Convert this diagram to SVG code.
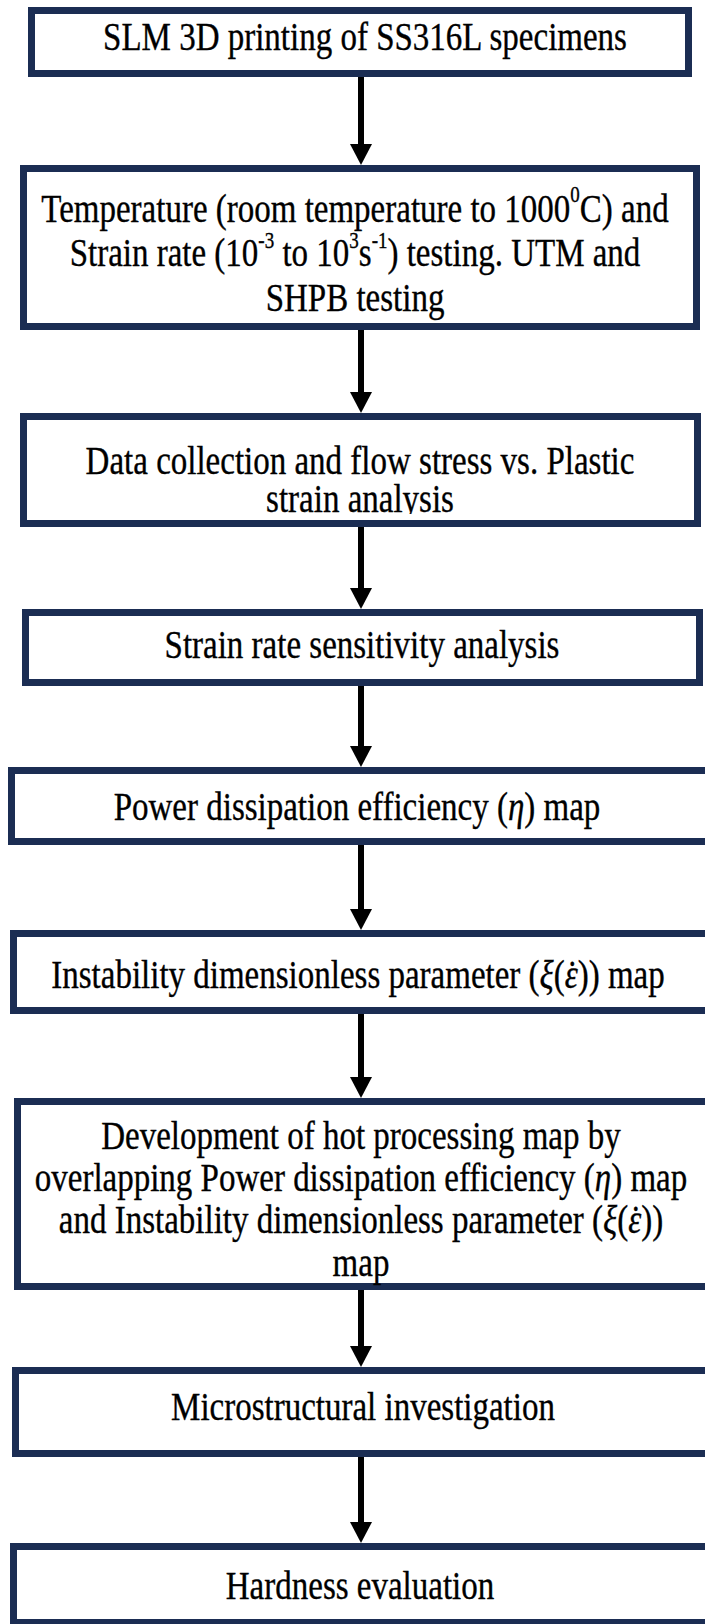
<svg xmlns="http://www.w3.org/2000/svg" width="705" height="1624" viewBox="0 0 705 1624">
<style>
.box{fill:#ffffff;stroke:#1b2d53;stroke-width:7}
.t{font-family:"Liberation Serif","Times New Roman",serif;font-size:33px;fill:#000;stroke:#000;stroke-width:0.3;text-anchor:middle}
.sup{font-size:19px}
.it{font-style:italic}
.conn line{stroke:#000;stroke-width:6}
</style>
<defs>
<marker id="ah" viewBox="0 0 21 22" markerWidth="21" markerHeight="22" refX="0" refY="11" orient="auto" markerUnits="userSpaceOnUse">
<path d="M0,0 L21,11 L0,22 Z" fill="#000"/>
</marker>
<clipPath id="clip3"><rect x="0" y="413" width="705" height="101"/></clipPath>
</defs>
<rect width="705" height="1624" fill="#ffffff"/>
<g id="n1"><rect class="box" x="31.5" y="10.5" width="657" height="63"/>
<text class="t" transform="translate(365,50) scale(1,1.2)">SLM 3D printing of SS316L specimens</text></g>
<g id="n2"><rect class="box" x="23.5" y="168.5" width="673" height="158"/>
<text class="t" transform="translate(355,222) scale(1,1.2)">Temperature (room temperature to 1000<tspan class="sup" dy="-17">0</tspan><tspan dy="17">C) and</tspan></text>
<text class="t" transform="translate(355,266) scale(1,1.2)">Strain rate (10<tspan class="sup" dy="-15">-3</tspan><tspan dy="15"> to 10</tspan><tspan class="sup" dy="-15">3</tspan><tspan dy="15">s</tspan><tspan class="sup" dy="-15">-1</tspan><tspan dy="15">) testing. UTM and</tspan></text>
<text class="t" transform="translate(355,311) scale(1,1.2)">SHPB testing</text></g>
<g id="n3"><rect class="box" x="23.5" y="416.5" width="674" height="107"/>
<text class="t" transform="translate(360,474) scale(1,1.2)">Data collection and flow stress vs. Plastic</text>
<g clip-path="url(#clip3)"><text class="t" transform="translate(360,512) scale(1,1.2)">strain analysis</text></g></g>
<g id="n4"><rect class="box" x="25.5" y="612.5" width="674" height="70"/>
<text class="t" transform="translate(362,658) scale(1,1.2)">Strain rate sensitivity analysis</text></g>
<g id="n5"><rect class="box" x="11.5" y="770.5" width="700" height="71"/>
<text class="t" transform="translate(357,820) scale(1,1.2)">Power dissipation efficiency (<tspan class="it">η</tspan>) map</text></g>
<g id="n6"><rect class="box" x="13.5" y="933.5" width="700" height="77"/>
<text class="t" transform="translate(358,988) scale(1,1.2)">Instability dimensionless parameter (<tspan class="it">ξ</tspan>(<tspan class="it">ε</tspan><tspan dx="-11">˙</tspan>)) map</text></g>
<g id="n7"><rect class="box" x="17.5" y="1101.5" width="700" height="185"/>
<text class="t" transform="translate(361,1149) scale(1,1.2)">Development of hot processing map by</text>
<text class="t" transform="translate(361,1191) scale(1,1.2)">overlapping Power dissipation efficiency (<tspan class="it">η</tspan>) map</text>
<text class="t" transform="translate(361,1233) scale(1,1.2)">and Instability dimensionless parameter (<tspan class="it">ξ</tspan>(<tspan class="it">ε</tspan><tspan dx="-11">˙</tspan>))</text>
<text class="t" transform="translate(361,1276) scale(1,1.2)">map</text></g>
<g id="n8"><rect class="box" x="15.5" y="1370.5" width="700" height="83"/>
<text class="t" transform="translate(363,1420) scale(1,1.2)">Microstructural investigation</text></g>
<g id="n9"><rect class="box" x="13.5" y="1546.5" width="700" height="76"/>
<text class="t" transform="translate(360,1599) scale(1,1.2)">Hardness evaluation</text></g>
<g id="connectors" class="conn">
<line x1="361" y1="77" x2="361" y2="144" marker-end="url(#ah)"/>
<line x1="361" y1="330" x2="361" y2="392" marker-end="url(#ah)"/>
<line x1="361" y1="527" x2="361" y2="588" marker-end="url(#ah)"/>
<line x1="361" y1="686" x2="361" y2="746" marker-end="url(#ah)"/>
<line x1="361" y1="845" x2="361" y2="909" marker-end="url(#ah)"/>
<line x1="361" y1="1014" x2="361" y2="1077" marker-end="url(#ah)"/>
<line x1="361" y1="1290" x2="361" y2="1346" marker-end="url(#ah)"/>
<line x1="361" y1="1457" x2="361" y2="1522" marker-end="url(#ah)"/>
</g>
</svg>
